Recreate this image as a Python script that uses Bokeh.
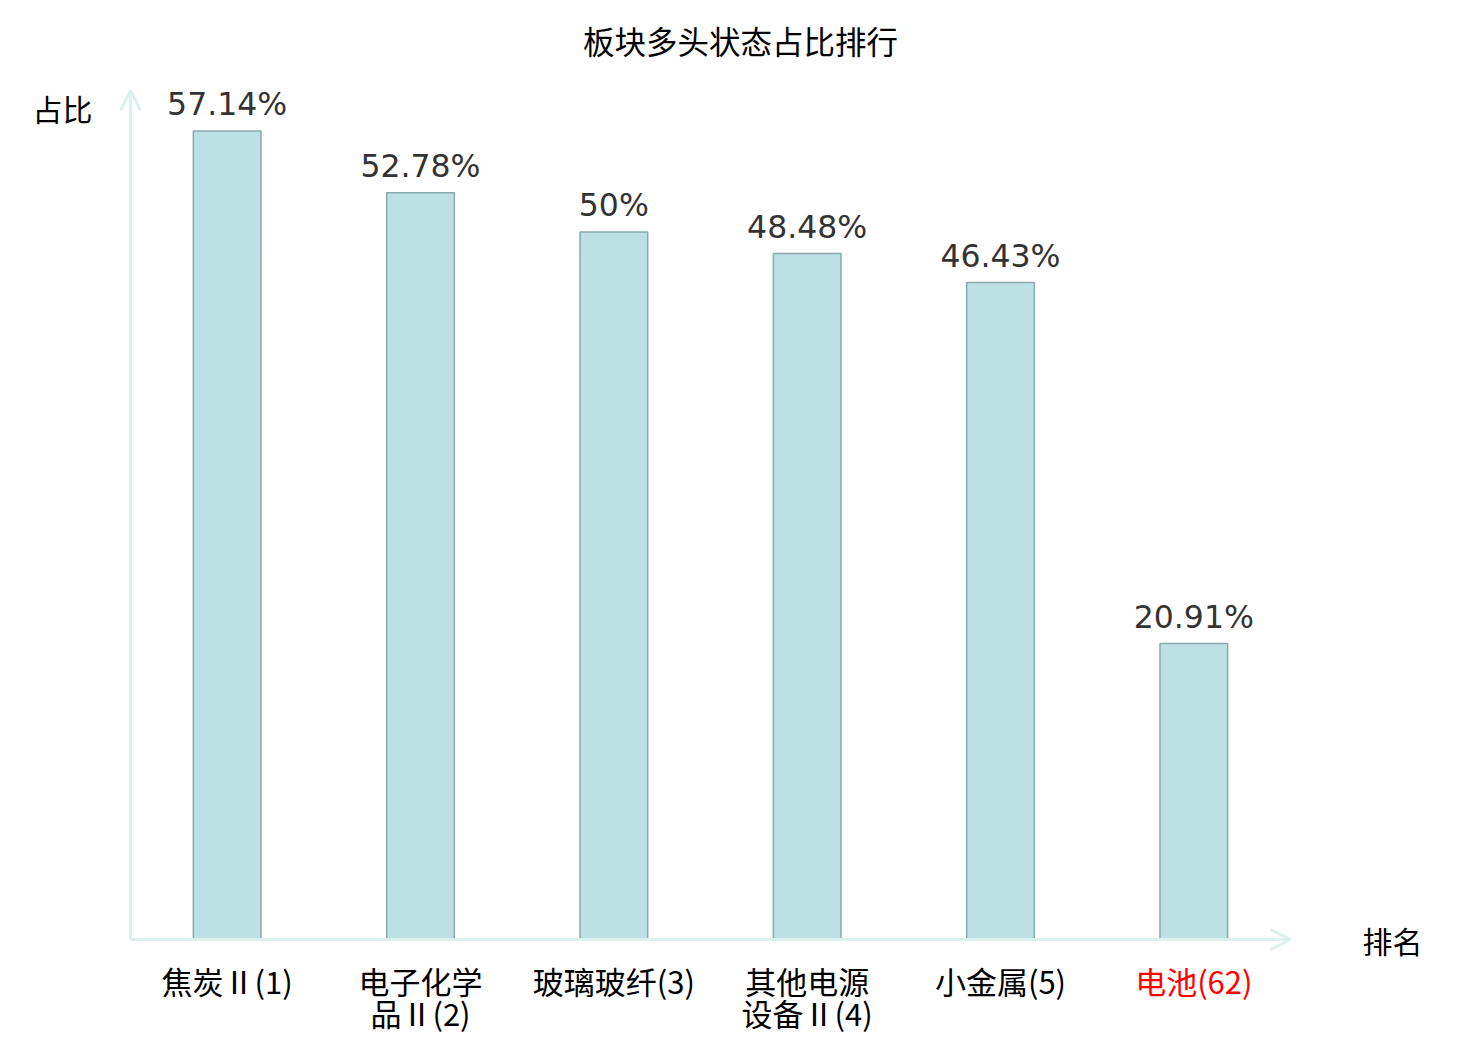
from bokeh.plotting import figure
from bokeh.models import ColumnDataSource, LabelSet, Label, Arrow, OpenHead, Range1d
from bokeh.core.properties import value
from bokeh.embed import file_html
from bokeh.resources import INLINE
import numpy as np

title = "板块多头状态占比排行"
categories = ["焦炭Ⅱ(1)", "电子化学\n品Ⅱ(2)", "玻璃玻纤(3)", "其他电源\n设备Ⅱ(4)", "小金属(5)", "电池(62)"]
values = [57.14, 52.78, 50.0, 48.48, 46.43, 20.91]
value_labels = ["57.14%", "52.78%", "50%", "48.48%", "46.43%", "20.91%"]
label_colors = ["#000000", "#000000", "#000000", "#000000", "#000000", "#ff0000"]
y_name = "占比"
x_name = "排名"
y_max = 60

n = len(categories)
# pixel geometry of the drawn axes: origin (130, 939), x axis to 1290, y axis to 90
W, H = 1470, 1038
ax_left, ax_right, ax_top, ax_bottom = 130, 1290, 90, 939
xu = (ax_right - ax_left) / n
yu = (ax_bottom - ax_top) / y_max

line1 = [c.split("\n")[0] for c in categories]
line2 = [c.split("\n")[1] if "\n" in c else "" for c in categories]

x = np.arange(n) + 0.5
src = ColumnDataSource(dict(x=x, top=values, vl=value_labels, l1=line1, l2=line2,
                            zero=[0] * n, col=label_colors))

p = figure(width=W, height=H, output_backend="svg", toolbar_location=None,
           x_range=Range1d(-ax_left / xu, (W - ax_left) / xu),
           y_range=Range1d((ax_bottom - H) / yu, ax_bottom / yu),
           min_border=0)
p.xaxis.visible = False
p.yaxis.visible = False
p.xgrid.visible = False
p.ygrid.visible = False
p.outline_line_color = None

p.vbar(x="x", top="top", width=0.35, bottom=0, source=src,
       fill_color="#bce0e3", line_color="#8aa9ab", line_width=1.5)

axis_color = "#dcf1ee"
p.add_layout(Arrow(end=OpenHead(line_color=axis_color, line_width=3, size=20),
                   x_start=0, y_start=0, x_end=n, y_end=0,
                   line_color=axis_color, line_width=3))
p.add_layout(Arrow(end=OpenHead(line_color=axis_color, line_width=3, size=20),
                   x_start=0, y_start=0, x_end=0, y_end=y_max,
                   line_color=axis_color, line_width=3))

p.add_layout(LabelSet(x="x", y="top", text="vl", source=src, y_offset=16,
                      text_align="center", text_baseline="alphabetic",
                      text_font=value("DejaVu Sans"), text_font_size="31.5px", text_color="#333333"))

p.add_layout(LabelSet(x="x", y="zero", text="l1", source=src, y_offset=-41,
                      text_align="center", text_baseline="middle",
                      text_font=value("Noto Sans CJK SC"), text_font_size="31px", text_color="col"))
p.add_layout(LabelSet(x="x", y="zero", text="l2", source=src, y_offset=-73,
                      text_align="center", text_baseline="middle",
                      text_font=value("Noto Sans CJK SC"), text_font_size="31px", text_color="col"))

p.add_layout(Label(x=0, y=y_max, text=y_name, x_offset=-38, y_offset=-17,
                   text_align="right", text_baseline="middle",
                   text_font="Noto Sans CJK SC", text_font_size="30px", text_color="#000000"))
p.add_layout(Label(x=n, y=0, text=x_name, x_offset=72, y_offset=0,
                   text_align="left", text_baseline="middle",
                   text_font="Noto Sans CJK SC", text_font_size="30px", text_color="#000000"))
p.add_layout(Label(x=n / 2, y=y_max, text=title, x_offset=30, y_offset=51,
                   text_align="center", text_baseline="middle",
                   text_font="Noto Sans CJK SC", text_font_size="31.5px", text_color="#000000"))

open("out.html", "w").write(file_html(p, INLINE))
